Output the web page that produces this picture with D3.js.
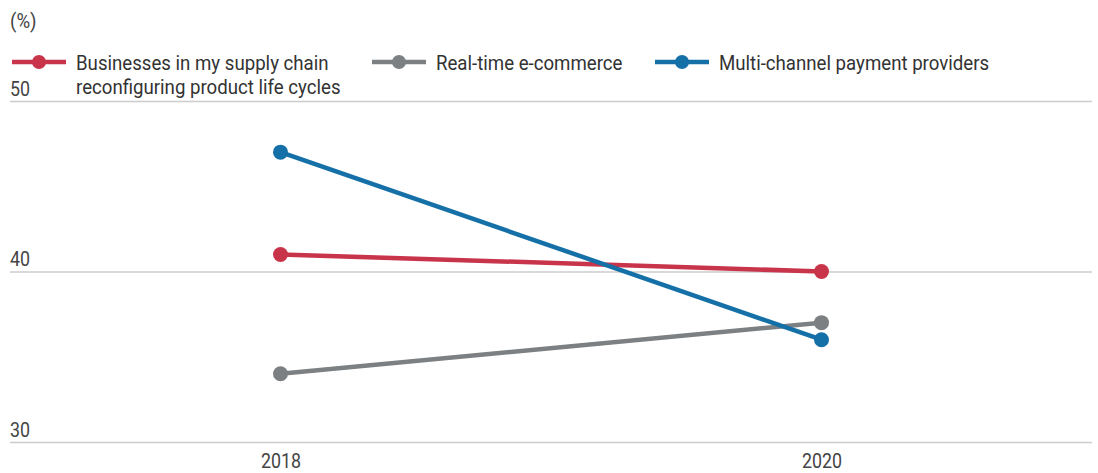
<!DOCTYPE html>
<html>
<head>
<meta charset="utf-8">
<script src="https://cdn.jsdelivr.net/npm/d3@7"></script>
<style>
  html, body { margin: 0; padding: 0; background: #fff; }
  svg { display: block; }
  text { font-family: "Roboto", sans-serif; }
</style>
</head>
<body>
<svg id="chart" width="1098" height="473"></svg>
<script>
const years = [2018, 2020];
const seriesNames = [
  ["Businesses in my supply chain", "reconfiguring product life cycles"],
  ["Real-time e-commerce"],
  ["Multi-channel payment providers"]
];
const supplyChain = [41, 40];
const eCommerce = [34, 37];
const payments = [47, 36];
const colors = ["#c8354b", "#7c8083", "#1670a8"];
const yTicks = [30, 40, 50];
const xTicks = [2018, 2020];

const series = [supplyChain, eCommerce, payments];
const SX = 0.87;   // horizontal condensing for numbers
const SXL = 0.91;  // horizontal condensing for legend text
const FS = 20.5;

const svg = d3.select("#chart");
const x = d3.scaleLinear().domain([2017, 2021]).range([10, 1092]);
const y = d3.scaleLinear().domain([30, 50]).range([442, 101]);

// units label
svg.append("g").attr("transform", `translate(10,28) scale(${SXL},1)`)
  .append("text").attr("font-size", FS).attr("fill", "#444").text("(%)");

// gridlines + y labels
const yAxis = d3.axisLeft(y).tickValues(yTicks).tickSize(-1082).tickFormat(d3.format("d"));
const gy = svg.append("g").attr("transform", "translate(10,0)").call(yAxis);
gy.select(".domain").remove();
gy.selectAll(".tick line").attr("stroke", "#cccccc").attr("stroke-width", 1.5);
gy.selectAll(".tick text")
  .attr("x", 0).attr("dy", 0).attr("y", -6).attr("text-anchor", "start")
  .attr("transform", `scale(${SX},1)`)
  .attr("font-size", FS).attr("fill", "#444")
  .style("font-family", "Roboto, sans-serif");

// x axis labels
const xAxis = d3.axisBottom(x).tickValues(xTicks).tickSize(0).tickFormat(d3.format("d"));
const gx = svg.append("g").attr("transform", "translate(0,442)").call(xAxis);
gx.select(".domain").remove();
gx.selectAll(".tick text").attr("dy", 0).attr("y", 26)
  .attr("transform", `scale(${SX},1)`)
  .attr("font-size", FS).attr("fill", "#444")
  .style("font-family", "Roboto, sans-serif");

// lines
const line = d3.line().x((d, i) => x(years[i])).y(d => y(d));
series.forEach((s, k) => {
  svg.append("path").datum(s).attr("d", line)
    .attr("fill", "none").attr("stroke", colors[k]).attr("stroke-width", 4.5);
});
series.forEach((s, k) => {
  svg.selectAll(null).data(s).enter().append("circle")
    .attr("cx", (d, i) => x(years[i])).attr("cy", d => y(d))
    .attr("r", 7.5).attr("fill", colors[k]);
});

// legend
const legendX = [12, 372, 655];
const lg = svg.append("g");
seriesNames.forEach((names, k) => {
  const g = lg.append("g").attr("transform", `translate(${legendX[k]},62)`);
  g.append("line").attr("x1", 0).attr("x2", 54).attr("y1", 0).attr("y2", 0)
    .attr("stroke", colors[k]).attr("stroke-width", 4.5);
  g.append("circle").attr("cx", 27).attr("cy", 0).attr("r", 7).attr("fill", colors[k]);
  const t = g.append("g").attr("transform", `translate(64,8) scale(${SXL},1)`)
    .append("text").attr("font-size", FS).attr("fill", "#333");
  names.forEach((n, j) => {
    t.append("tspan").attr("x", 0).attr("dy", j === 0 ? 0 : 24).text(n);
  });
});
</script>
</body>
</html>
